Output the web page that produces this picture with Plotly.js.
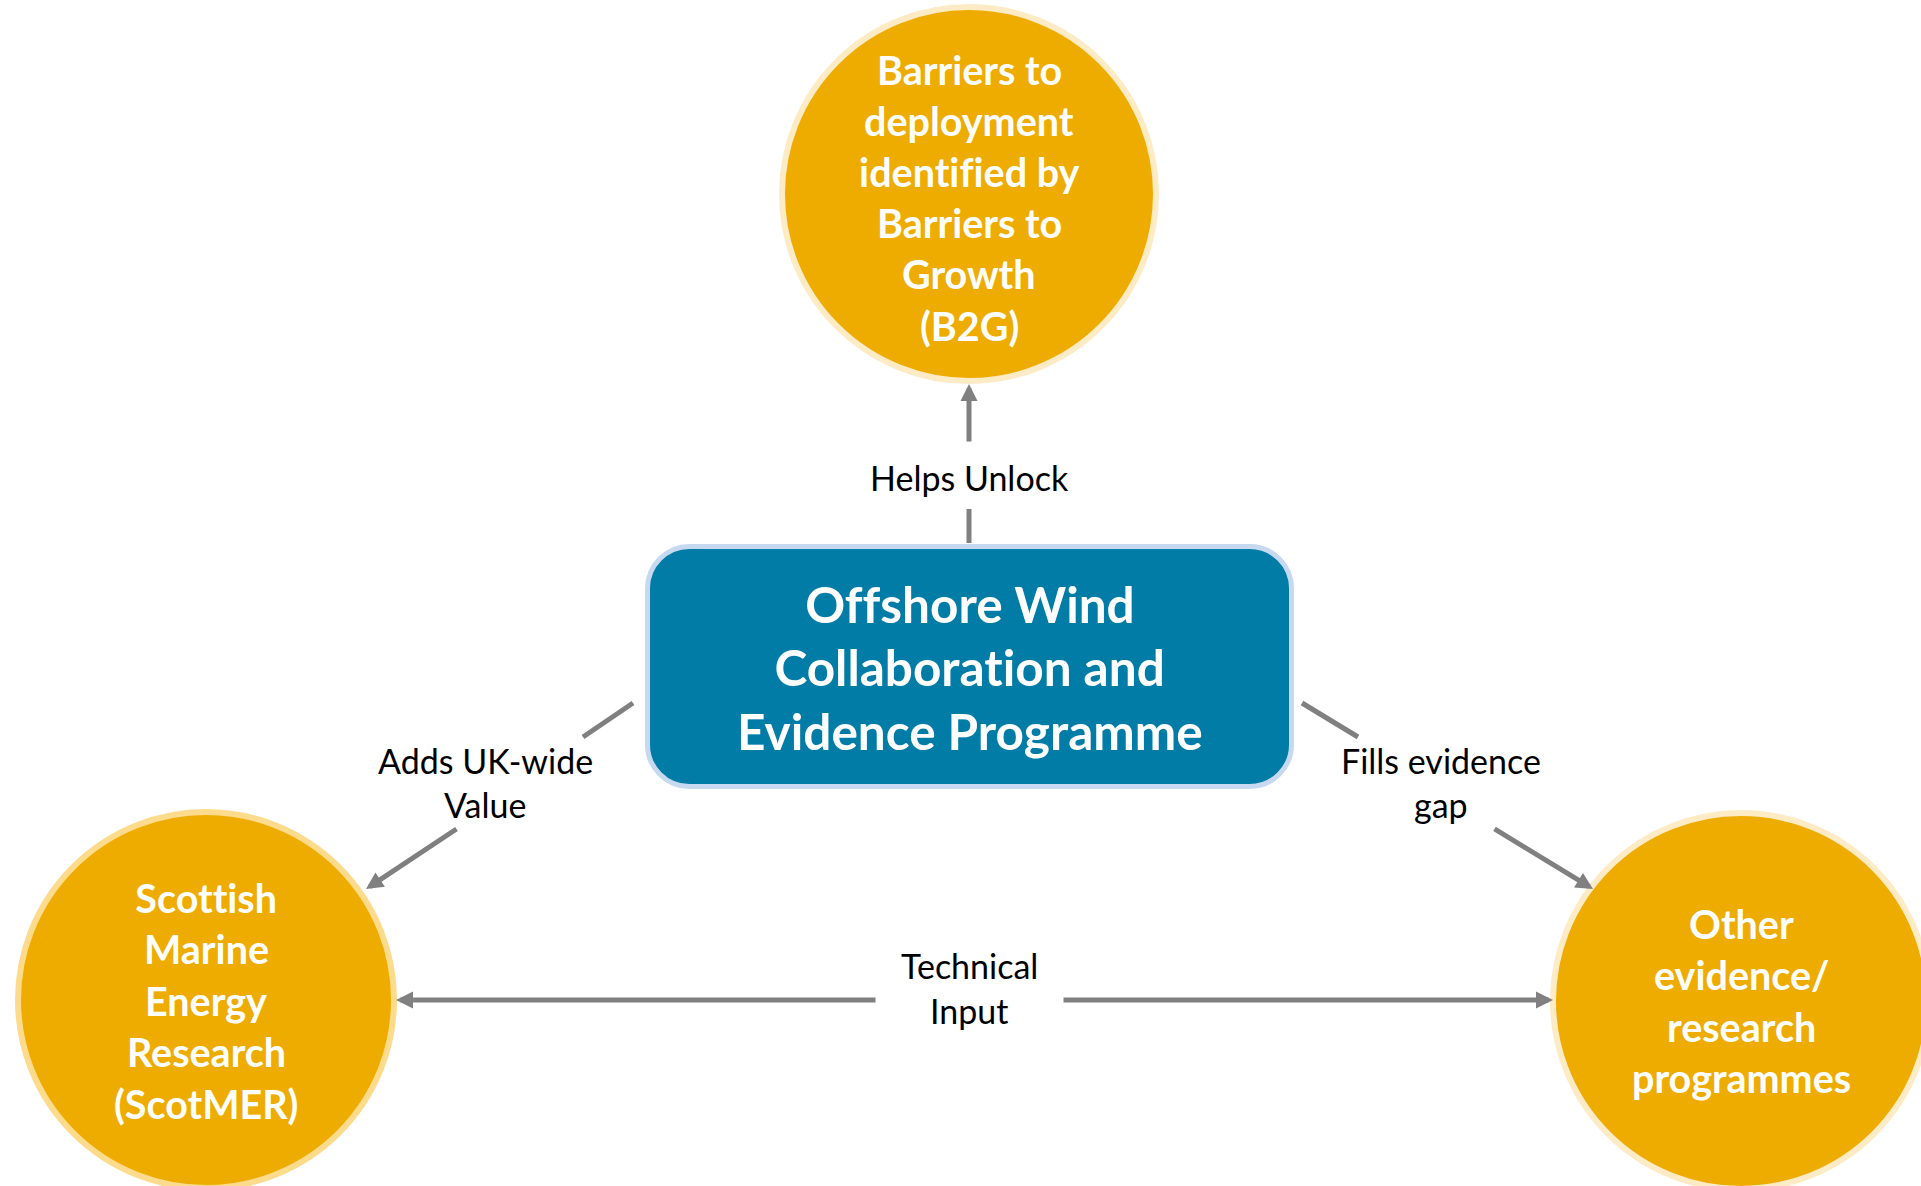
<!DOCTYPE html>
<html>
<head>
<meta charset="utf-8">
<script src="https://cdn.plot.ly/plotly-3.0.1.min.js"></script>
<style>
html,body{margin:0;padding:0;background:#fff;}
#chart{width:1921px;height:1186px;}
#chart svg text{font-variant-ligatures:none;font-feature-settings:"liga" 0,"clig" 0,"dlig" 0;}
</style>
</head>
<body>
<div id="chart"></div>
<script>
// ---- content (text of the diagram) ----
const centreLines = ["Offshore Wind", "Collaboration and", "Evidence Programme"];
const b2gLines = ["Barriers to", "deployment", "identified by", "Barriers to", "Growth", "(B2G)"];
const scotmerLines = ["Scottish", "Marine", "Energy", "Research", "(ScotMER)"];
const otherLines = ["Other", "evidence/", "research", "programmes"];
const helpsLabel = ["Helps Unlock"];
const addsLabel = ["Adds UK-wide", "Value"];
const fillsLabel = ["Fills evidence", "gap"];
const technicalLabel = ["Technical", "Input"];

// ---- geometry / style (layout config) ----
const W = 1921, H = 1186;
const FONT = "Lato, 'Open Sans', sans-serif";
const ORANGE = "#EFAC00";
const GREY = "#808080";

const circles = [
  {cx: 969, cy: 194, r: 187, border: "#FDEBC6", lines: b2gLines, cyText: 197, step: 51.2},
  {cx: 206, cy: 1000, r: 188, border: "#FDDB8C", lines: scotmerLines, cyText: 1000, step: 51.5},
  {cx: 1741, cy: 1001, r: 188, border: "#FDEBC6", lines: otherLines, cyText: 1000.5, step: 51.2}
];
const box = {x0: 647.5, x1: 1291.5, y0: 546.5, y1: 786.5, r: 42, fill: "#017CA6", border: "#C6D9F0",
             cyText: 667, step: 63.5, lines: centreLines};

const labels = [
  {x: 969, cy: 477, step: 44, lines: helpsLabel},
  {x: 485, cy: 782, step: 44, lines: addsLabel},
  {x: 1441, cy: 782, step: 44, lines: fillsLabel},
  {x: 969, cy: 988, step: 45, lines: technicalLabel}
];

// plain segments (no head) and arrows (tail -> tip)
const segments = [
  [969, 543, 969, 509],
  [633, 703, 583, 737],
  [1302, 703, 1358, 737],
];
const arrows = [
  [969, 443, 969, 384],
  [458, 828, 366, 889],
  [1493, 828, 1593, 889],
  [877, 1000, 396, 1000],
  [1062, 1000, 1553, 1000]
];

const shapes = [];
const annotations = [];

function addLines(lines, x, cy, step, size, color, bold) {
  const n = lines.length;
  lines.forEach((t, i) => {
    annotations.push({
      x: x, y: cy + (i - (n - 1) / 2) * step, xref: "x", yref: "y",
      text: bold ? "<b>" + t + "</b>" : t, showarrow: false,
      xanchor: "center", yanchor: "middle",
      font: {family: FONT, size: size, color: color}
    });
  });
}

// circles
circles.forEach(c => {
  shapes.push({type: "circle", xref: "x", yref: "y",
    x0: c.cx - c.r, x1: c.cx + c.r, y0: c.cy - c.r, y1: c.cy + c.r,
    fillcolor: ORANGE, line: {color: c.border, width: 6}, layer: "below"});
  addLines(c.lines, c.cx, c.cyText, c.step, 39.5, "#FFFFFF", true);
});

// rounded rectangle
(function () {
  const {x0, x1, y0, y1, r} = box;
  const k = 0.5523 * r;
  const p = `M${x0 + r},${y0} L${x1 - r},${y0} C${x1 - r + k},${y0} ${x1},${y0 + r - k} ${x1},${y0 + r}` +
    ` L${x1},${y1 - r} C${x1},${y1 - r + k} ${x1 - r + k},${y1} ${x1 - r},${y1}` +
    ` L${x0 + r},${y1} C${x0 + r - k},${y1} ${x0},${y1 - r + k} ${x0},${y1 - r}` +
    ` L${x0},${y0 + r} C${x0},${y0 + r - k} ${x0 + r - k},${y0} ${x0 + r},${y0} Z`;
  shapes.push({type: "path", xref: "x", yref: "y", path: p, fillcolor: box.fill,
    line: {color: box.border, width: 5}, layer: "below"});
  addLines(box.lines, (x0 + x1) / 2, box.cyText, box.step, 49.5, "#FFFFFF", true);
})();

// connector segments
segments.forEach(s => {
  shapes.push({type: "line", xref: "x", yref: "y", x0: s[0], y0: s[1], x1: s[2], y1: s[3],
    line: {color: GREY, width: 5}});
});
arrows.forEach(a => {
  annotations.push({x: a[2], y: a[3], ax: a[0], ay: a[1], xref: "x", yref: "y", axref: "x", ayref: "y",
    text: "", showarrow: true, arrowhead: 2, arrowsize: 0.68, arrowwidth: 5, arrowcolor: GREY, standoff: 0});
});

// link labels
labels.forEach(l => addLines(l.lines, l.x, l.cy, l.step, 34, "#000000", false));

const layout = {
  width: W, height: H,
  margin: {l: 0, r: 0, t: 0, b: 0, pad: 0},
  paper_bgcolor: "#FFFFFF", plot_bgcolor: "#FFFFFF",
  xaxis: {range: [0, W], visible: false, fixedrange: true},
  yaxis: {range: [H, 0], visible: false, fixedrange: true},
  showlegend: false,
  shapes: shapes,
  annotations: annotations
};

Plotly.newPlot("chart", [{x: [0], y: [0], mode: "markers", marker: {opacity: 0}, hoverinfo: "skip"}], layout,
  {staticPlot: true, displayModeBar: false});
</script>
</body>
</html>
